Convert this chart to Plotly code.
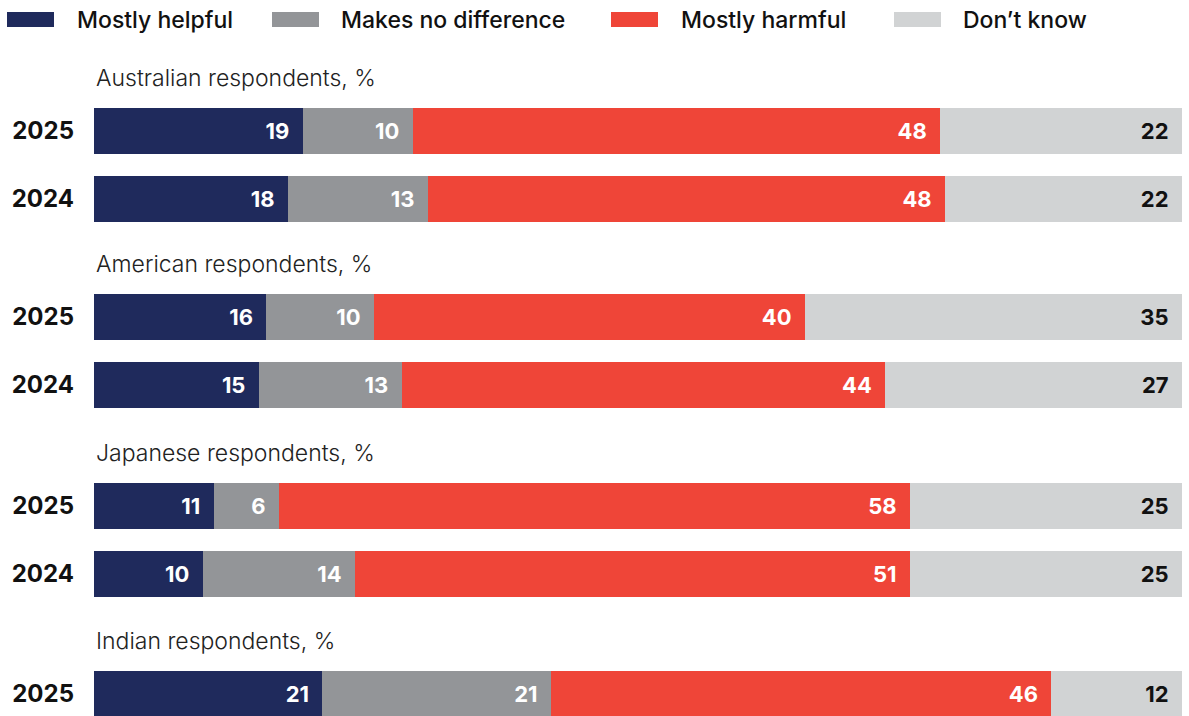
import plotly.graph_objects as go

# ---- data ----
group_titles = ["Australian respondents, %", "American respondents, %",
                "Japanese respondents, %", "Indian respondents, %"]
years = ["2025", "2024", "2025", "2024", "2025", "2024", "2025"]
row_group = [0, 0, 1, 1, 2, 2, 3]
series_names = ["Mostly helpful", "Makes no difference", "Mostly harmful", "Don\u2019t know"]
mostly_helpful = [19, 18, 16, 15, 11, 10, 21]
no_difference = [10, 13, 10, 13, 6, 14, 21]
mostly_harmful = [48, 48, 40, 44, 58, 51, 46]
dont_know = [22, 22, 35, 27, 25, 25, 12]

# ---- layout / style ----
row_pos = [0, 1, 2.735, 3.735, 5.515, 6.515, 8.28]
colors = ["#1F2A5C", "#939598", "#EF4538", "#D1D3D4"]
text_colors = ["#FFFFFF", "#FFFFFF", "#FFFFFF", "#111111"]
FONT = "Inter"
W, H = 1189, 716
ML, MR = 94, 7
PX0, PXU = 131, 68  # pixel of row 0 centre, pixels per unit


def ypx(py):
    return (py - PX0) / PXU


def xpaper(px):
    return (px - ML) / (W - ML - MR)


fig = go.Figure()
for name, vals, col, tcol in zip(series_names,
                                 [mostly_helpful, no_difference, mostly_harmful, dont_know],
                                 colors, text_colors):
    fig.add_trace(go.Bar(
        y=row_pos, x=vals, orientation="h", name=name,
        marker=dict(color=col, line=dict(width=0)),
        width=0.676,
        text=[f"{v}\u00a0\u00a0" for v in vals],
        textposition="inside", insidetextanchor="end", textangle=0,
        insidetextfont=dict(family=FONT, size=22, color=tcol, weight=700),
        hoverinfo="skip", showlegend=False,
    ))

annotations = []
shapes = []
# group subtitles
for g, title in enumerate(group_titles):
    first = row_pos[row_group.index(g)]
    annotations.append(dict(
        x=0.0, xref="paper", y=first - 0.78, yref="y", text=title,
        showarrow=False, xanchor="left", yanchor="middle",
        font=dict(family=FONT, size=23, color="#222222", weight=300)))

# custom legend
legend_box_x = [7, 272, 611, 894]
legend_text_x = [75, 339, 679, 961]
for name, col, bx, tx in zip(series_names, colors, legend_box_x, legend_text_x):
    shapes.append(dict(type="rect", xref="paper", yref="y",
                       x0=xpaper(bx), x1=xpaper(bx + 47), y0=ypx(12), y1=ypx(27),
                       fillcolor=col, line=dict(width=0)))
    annotations.append(dict(
        x=xpaper(tx), xref="paper", y=ypx(20), yref="y", text=name,
        showarrow=False, xanchor="left", yanchor="middle",
        font=dict(family=FONT, size=23, color="#111111", weight=500)))

fig.update_layout(
    width=W, height=H,
    margin=dict(l=ML, r=MR, t=0, b=0, autoexpand=False),
    barmode="stack", barnorm="percent",
    plot_bgcolor="white", paper_bgcolor="white",
    showlegend=False,
    xaxis=dict(range=[0, 100], visible=False, fixedrange=True, automargin=False),
    yaxis=dict(range=[ypx(716), ypx(0)], tickmode="array", automargin=False,
               tickvals=row_pos, ticktext=years, showgrid=False, zeroline=False,
               showline=False, ticks="", ticklabelstandoff=19, fixedrange=True,
               tickfont=dict(family=FONT, size=24, color="#111111", weight=700)),
    annotations=annotations, shapes=shapes,
)

fig.write_html("out.html",
               config={"displayModeBar": False},
               post_script="document.body.style.margin='0';document.body.style.overflow='hidden';")
